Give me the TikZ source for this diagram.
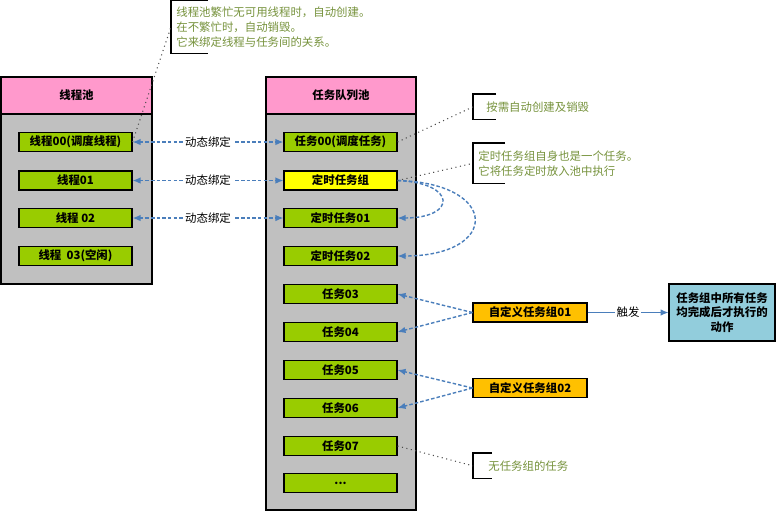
\documentclass[tikz,border=0pt]{standalone}
\usepackage{fontspec}
\setmainfont{Noto Sans CJK SC}
\usepackage{tikz}
\usetikzlibrary{positioning,arrows.meta,calc}
\definecolor{poolhead}{HTML}{FF99CC}
\definecolor{poolbody}{HTML}{C0C0C0}
\definecolor{taskgreen}{HTML}{99CC00}
\definecolor{groupyellow}{HTML}{FFFF00}
\definecolor{grouporange}{HTML}{FFC000}
\definecolor{actionblue}{HTML}{92CDDC}
\definecolor{linkblue}{HTML}{4A7EBB}
\definecolor{notegreen}{HTML}{76923C}

\begin{document}
\begin{tikzpicture}[x=0.02cm, y=-0.02cm,
        headbox/.style={rectangle, draw=black, fill=poolhead, line width=0.6pt,
          minimum width=3.02cm, minimum height=0.74cm, inner sep=0pt,
          font=\fontsize{6.5}{8.5}\selectfont\bfseries},
        bodybox/.style={rectangle, draw=black, fill=poolbody, line width=0.6pt,
          minimum width=3.02cm, inner sep=0pt},
        itembox/.style={rectangle, draw=black, fill=taskgreen, line width=0.6pt,
          minimum width=2.26cm, minimum height=0.38cm, inner sep=0pt,
          font=\fontsize{6.5}{8.5}\selectfont\bfseries},
        groupbox/.style={itembox, fill=grouporange, minimum width=2.28cm},
        notetext/.style={anchor=north west, align=left, text=notegreen,
          minimum height=#1, inner ysep=0pt,
          font=\fontsize{6.5}{8.5}\selectfont},
        bracket/.style={draw=black, line width=0.6pt},
        bindarr/.style={{Latex[length=1.6mm, width=1.3mm]}-{Latex[length=1.6mm, width=1.3mm]},
          linkblue, line width=0.8pt, dash pattern=on 2pt off 1.2pt},
        grouparr/.style={-{Latex[length=1.6mm, width=1.3mm]},
          linkblue, line width=0.8pt, dash pattern=on 2pt off 1.2pt},
        trigarr/.style={-{Latex[length=1.6mm, width=1.3mm]}, linkblue, line width=0.6pt},
        dotline/.style={draw=black!70, line width=0.6pt, dash pattern=on 0.6pt off 2pt},
        linklabel/.style={fill=white, text=black, inner sep=1pt,
          font=\fontsize{6.5}{8.5}\selectfont},
      ]
      \useasboundingbox (0,0) rectangle (776,512);

      % thread pool
      \node[headbox] (threadhead) at (76.5,95.5) {线程池};
      \node[bodybox, minimum height=3.4cm] (threadbody) at (76.5,199) {};
      \node[itembox] (th00) at (75.5,142) {线程00(调度线程)};
      \node[itembox] (th01) at (75.5,180.5) {线程01};
      \node[itembox] (th02) at (75.5,218) {线程 02};
      \node[itembox] (th03) at (75.5,256) {线程\ \ 03(空闲)};

      % task queue pool
      \node[headbox, minimum width=3cm] (taskhead) at (341,95.5) {任务队列池};
      \node[bodybox, minimum width=3cm, minimum height=7.92cm] (taskbody) at (341,312) {};
      \node[itembox] (tk00) at (340.5,142) {任务00(调度任务)};
      \node[itembox, fill=groupyellow] (timegrp) at (340.5,180.5) {定时任务组};
      \node[itembox] (tm01) at (340.5,218) {定时任务01};
      \node[itembox] (tm02) at (340.5,256) {定时任务02};
      \node[itembox] (tk03) at (340.5,294) {任务03};
      \node[itembox] (tk04) at (340.5,332) {任务04};
      \node[itembox] (tk05) at (340.5,370) {任务05};
      \node[itembox] (tk06) at (340.5,408) {任务06};
      \node[itembox] (tk07) at (340.5,446) {任务07};
      \node[itembox] (tkmore) at (340.5,483) {...};

      % binding between threads and tasks
      \draw[bindarr] (th00) -- node[linklabel] {动态绑定} (tk00);
      \draw[bindarr] (th01) -- node[linklabel] {动态绑定} (timegrp);
      \draw[bindarr] (th02) -- node[linklabel] {动态绑定} (tm01);

      % timed group
      \draw[grouparr] (timegrp.east) .. controls (457,183) and (457,218) .. (tm01.east);
      \draw[grouparr] (timegrp.east) .. controls (500,183) and (500,256) .. (tm02.east);

      % custom groups
      \node[groupbox] (cgrp01) at (530,312.5) {自定义任务组01};
      \node[groupbox] (cgrp02) at (530,388) {自定义任务组02};
      \node[rectangle, draw=black, fill=actionblue, line width=0.6pt, align=center,
        minimum width=2.12cm, minimum height=1.14cm, inner sep=0pt,
        font=\fontsize{6.5}{8.2}\selectfont\bfseries] (action) at (722,312.5)
        {任务组中所有任务\\均完成后才执行的\\动作};

      \draw[grouparr] (cgrp01.west) -- (tk03.east);
      \draw[grouparr] (cgrp01.west) -- (tk04.east);
      \draw[grouparr] (cgrp02.west) -- (tk05.east);
      \draw[grouparr] (cgrp02.west) -- (tk06.east);
      \draw[trigarr] (cgrp01) -- node[linklabel] {触发} (action);

      % notes
      \node[notetext=1.06cm, inner xsep=0.1cm] (note1) at (171,0)
        {线程池繁忙无可用线程时，自动创建。\\在不繁忙时，自动销毁。\\它来绑定线程与任务间的关系。};
      \draw[bracket] (note1.north west) ++(37,0) -- (note1.north west)
        -- (note1.south west) -- ++(37,0);
      \node[notetext=0.5cm, inner xsep=0.26cm] (note2) at (473,94) {按需自动创建及销毁};
      \draw[bracket] (note2.north west) ++(23,0) -- (note2.north west)
        -- (note2.south west) -- ++(23,0);
      \node[notetext=0.8cm, inner xsep=0.1cm] (note3) at (473,143)
        {定时任务组自身也是一个任务。\\它将任务定时放入池中执行};
      \draw[bracket] (note3.north west) ++(32,0) -- (note3.north west)
        -- (note3.south west) -- ++(32,0);
      \node[notetext=0.5cm, inner xsep=0.3cm] (note4) at (473,453) {无任务组的任务};
      \draw[bracket] (note4.north west) ++(19,0) -- (note4.north west)
        -- (note4.south west) -- ++(19,0);

      \draw[dotline] (th00.east) -- (note1.west);
      \draw[dotline] (tk00.east) -- (note2.west);
      \draw[dotline] (timegrp.east) -- (note3.west);
      \draw[dotline] (tk07.east) -- (note4.west);
    \end{tikzpicture}
\end{document}
